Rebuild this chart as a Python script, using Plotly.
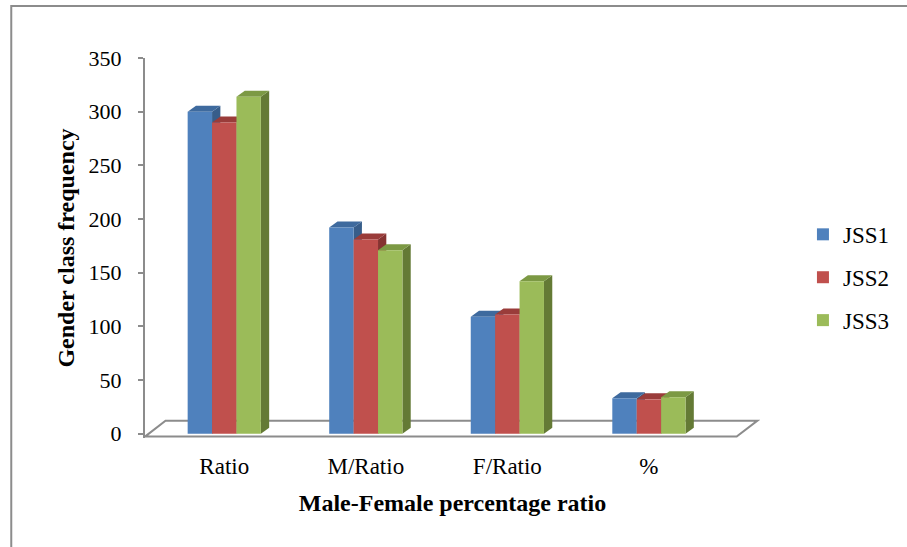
import plotly.graph_objects as go

# ---- data ----
categories = ["Ratio", "M/Ratio", "F/Ratio", "%"]
series_names = ["JSS1", "JSS2", "JSS3"]
jss1 = [300, 192, 109, 33]
jss2 = [290, 181, 111, 32]
jss3 = [314, 171, 142, 34]
y_tick_values = [0, 50, 100, 150, 200, 250, 300, 350]

series_values = [jss1, jss2, jss3]
front_colors = ["#4F81BD", "#C0504D", "#9BBB59"]
top_colors = ["#3E6A9E", "#9A3C3A", "#7C9944"]
side_colors = ["#375D8A", "#853331", "#647A35"]

W, H = 907, 547
L, R, T = 145, 775, 58
Y_MIN, Y_MAX = -4, 350
X_MIN = -0.56
PX_PER_UNIT_X = 145.0
X_MAX = X_MIN + (R - L) / PX_PER_UNIT_X
PX_PER_UNIT_Y = 1.0743
PLOT_H = (Y_MAX - Y_MIN) * PX_PER_UNIT_Y
B = H - T - PLOT_H

bar_w = 25.0 / PX_PER_UNIT_X
bargap = 1 - 3 * bar_w
dx = 8.5 / PX_PER_UNIT_X
dy = 6.0 / PX_PER_UNIT_Y

font_family = "Liberation Serif, Times New Roman, serif"
x_pos = list(range(len(categories)))

fig = go.Figure()
for k, (name, vals) in enumerate(zip(series_names, series_values)):
    fig.add_trace(go.Bar(
        x=x_pos, y=vals, name=name,
        marker=dict(color=front_colors[k], line=dict(width=0)),
        legendgroup=name,
    ))


def px_to_paper_x(px):
    return (px - L) / (R - L)


def px_to_paper_y(py):
    return (T + PLOT_H - py) / PLOT_H


shapes = []
# floor (3D base)
floor_front_y = -2.7
floor_back_y = 12
floor_x0 = X_MIN
floor_x1 = 3.62
floor_off = 0.145
shapes.append(dict(
    type="path", xref="x", yref="y", layer="below",
    path=f"M{floor_x0},{floor_front_y} L{floor_x0 + floor_off},{floor_back_y} "
         f"L{floor_x1 + floor_off},{floor_back_y} L{floor_x1},{floor_front_y} Z",
    line=dict(color="#8C8C8C", width=2), fillcolor="white",
))
# 3D side and top faces computed from data
for i in range(len(categories)):
    for k, vals in enumerate(series_values):
        v = vals[i]
        x0 = i + (k - 1) * bar_w - bar_w / 2
        x1 = x0 + bar_w
        shapes.append(dict(
            type="path", xref="x", yref="y", layer="below",
            path=f"M{x1},0 L{x1},{v} L{x1 + dx},{v + dy} L{x1 + dx},{dy} Z",
            line=dict(width=0), fillcolor=side_colors[k],
        ))
        shapes.append(dict(
            type="path", xref="x", yref="y", layer="below",
            path=f"M{x0},{v} L{x1},{v} L{x1 + dx},{v + dy} L{x0 + dx},{v + dy} Z",
            line=dict(width=0), fillcolor=top_colors[k],
        ))

# outer chart border (right and bottom edges lie outside the picture)
shapes.append(dict(
    type="rect", xref="paper", yref="paper",
    x0=px_to_paper_x(8), x1=px_to_paper_x(960),
    y0=px_to_paper_y(620), y1=px_to_paper_y(6),
    line=dict(color="#8C8C8C", width=2), fillcolor="rgba(0,0,0,0)",
))

fig.update_layout(
    width=W, height=H,
    margin=dict(l=L, r=W - R, t=T, b=B, pad=0),
    paper_bgcolor="white", plot_bgcolor="white",
    barmode="group", bargap=bargap, bargroupgap=0,
    font=dict(family=font_family, size=22, color="black"),
    shapes=shapes,
    showlegend=True,
    legend=dict(
        x=px_to_paper_x(819), xanchor="left",
        y=px_to_paper_y(213), yanchor="top",
        font=dict(family=font_family, size=23, color="black"),
        tracegroupgap=10, bgcolor="rgba(0,0,0,0)",
        traceorder="grouped",
    ),
    xaxis=dict(
        range=[X_MIN, X_MAX], tickmode="array", tickvals=x_pos, ticktext=categories,
        showline=False, showgrid=False, zeroline=False, ticks="",
        ticklabelstandoff=12,
        title=dict(text="<b>Male-Female percentage ratio</b>", standoff=16,
                   font=dict(family=font_family, size=24, color="black")),
        tickfont=dict(family=font_family, size=23, color="black"),
    ),
    yaxis=dict(
        range=[Y_MIN, Y_MAX], tickmode="array", tickvals=y_tick_values,
        showline=True, linecolor="#8C8C8C", linewidth=2,
        ticks="outside", ticklen=5, tickcolor="#8C8C8C", tickwidth=1.5,
        showgrid=False, zeroline=False,
        ticklabelstandoff=12,
        title=dict(text="<b>Gender class frequency</b>", standoff=7,
                   font=dict(family=font_family, size=24, color="black")),
        tickfont=dict(family=font_family, size=22, color="black"),
    ),
)

fig.write_html("out.html", config={"displayModeBar": False},
               post_script="document.body.style.margin='0px';")
